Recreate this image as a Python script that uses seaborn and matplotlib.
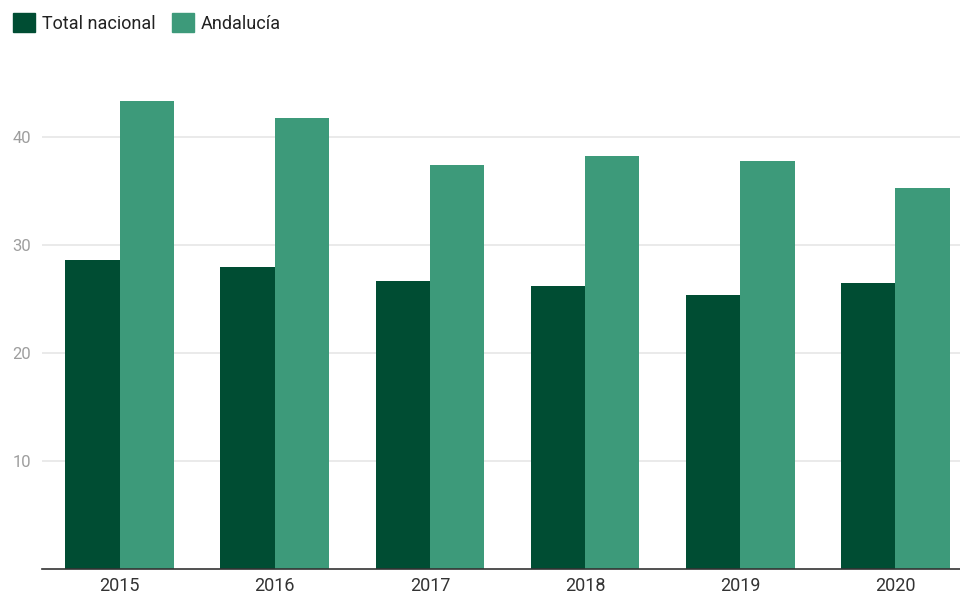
import numpy as np
import pandas as pd
import seaborn as sns
import matplotlib.pyplot as plt
from matplotlib.patches import Patch

years = ["2015", "2016", "2017", "2018", "2019", "2020"]
total_nacional = [28.6, 28.0, 26.7, 26.2, 25.4, 26.5]
andalucia = [43.3, 41.8, 37.4, 38.2, 37.8, 35.3]
series = ["Total nacional", "Andalucía"]
colors = ["#004d33", "#3d9a7a"]

df = pd.DataFrame({
    "year": years * 2,
    "value": total_nacional + andalucia,
    "serie": [series[0]] * len(years) + [series[1]] * len(years),
})

sns.set_style("white")
plt.rcParams["font.family"] = ["Roboto", "DejaVu Sans"]

fig = plt.figure(figsize=(9.6, 5.99), dpi=100)
ax = fig.add_axes([42 / 960, 30 / 599, 931 / 960, 540 / 599])

sns.barplot(data=df, x="year", y="value", hue="serie", palette=colors,
            width=0.70, saturation=1, linewidth=0, ax=ax, legend=False)

ax.set_ylim(0, 50)
ax.set_yticks([10, 20, 30, 40])
ax.yaxis.grid(True, color="#e6e6e6", linewidth=1.2)
ax.set_axisbelow(True)
for s in ["top", "right", "left"]:
    ax.spines[s].set_visible(False)
ax.spines["bottom"].set_color("#333333")
ax.spines["bottom"].set_linewidth(1.2)
ax.tick_params(axis="both", length=0)
ax.tick_params(axis="y", labelsize=12, labelcolor="#9e9e9e", pad=8)
ax.tick_params(axis="x", labelsize=13, labelcolor="#333333", pad=6)
ax.set_xlabel("")
ax.set_ylabel("")

handles = [Patch(facecolor=c, edgecolor=c) for c in colors]
fig.legend(handles, series, loc="upper left", bbox_to_anchor=(-0.003, 1.005),
           ncol=2, frameon=False, fontsize=13, handlelength=1.2,
           handleheight=1.2, handletextpad=0.4, columnspacing=0.9,
           labelcolor="#222222")

fig.savefig("out.png", dpi=100)
